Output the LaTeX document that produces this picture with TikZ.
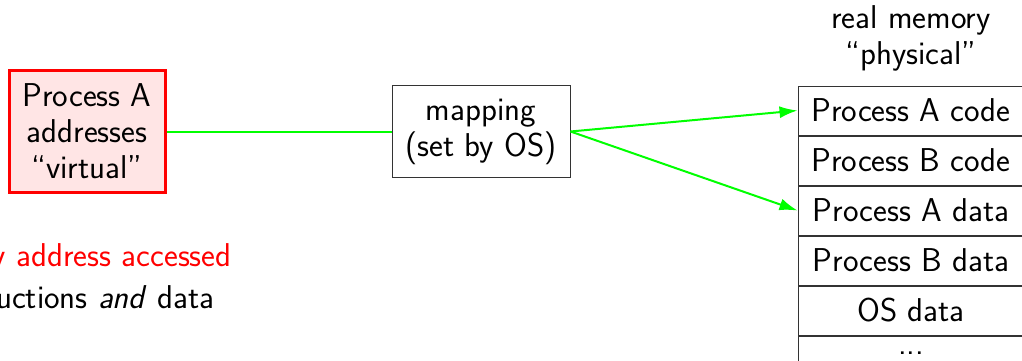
\documentclass[tikz,border=0pt]{standalone}
\usetikzlibrary{positioning,arrows.meta}
\tikzset{ proc/.style = { rectangle % virtual side
        , draw = red
        , line width = 1.5pt
        , fill = red!10
        , minimum width = 78pt
        , minimum height = 61pt
        , inner sep = 0pt
        , align = center
        }
        , mapbox/.style = { rectangle % mapping
        , draw = black!80
        , line width = 0.5pt
        , minimum width = 89pt
        , minimum height = 46pt
        , inner sep = 0pt
        , align = center
        }
        , mem/.style = { rectangle % physical row
        , draw = black!80
        , line width = 0.5pt
        , minimum width = 113pt
        , minimum height = 24.5pt
        , inner sep = 0pt
        }
        }

\begin{document}
\begin{tikzpicture}[x=0.5pt, y=-0.5pt, node distance=0pt,
        font=\sffamily\fontsize{16.5}{18}\selectfont,
        edge_style/.style={draw=green, line width=1pt},
        arrow_style/.style={draw=green, line width=1pt, -{Latex[length=9pt,width=6pt]}}]
        \useasboundingbox (0,0) rectangle (1022,360);
        \clip (0,0) rectangle (1022,360);

        \node [proc] (procA) at (87,131.5) {Process A\\addresses\\``virtual''};
        \node [mapbox] (map) at (481,131.5) {mapping\\(set by OS)};
        \node [align=center, inner sep=0pt] (real) at (911,38) {real memory\\``physical''};

        \node [mem] (m1) at (911,110.5) {Process A code};
        \node [mem, below=of m1] (m2) {Process B code};
        \node [mem, below=of m2] (m3) {Process A data};
        \node [mem, below=of m3] (m4) {Process B data};
        \node [mem, below=of m4] (m5) {OS data};
        \node [mem, below=of m5] (m6) {\raisebox{1ex}{...}};

        \node [anchor=east, text=red, inner sep=0pt] (note1) at (232,258) {every address accessed};
        \node [anchor=east, inner sep=0pt] (note2) at (215,297) {instructions \emph{and} data};

        \draw [edge_style] (procA) -- (map);
        \draw [arrow_style] (map.east) -- (m1.west);
        \draw [arrow_style] (map.east) -- (m3.west);
\end{tikzpicture}
\end{document}
